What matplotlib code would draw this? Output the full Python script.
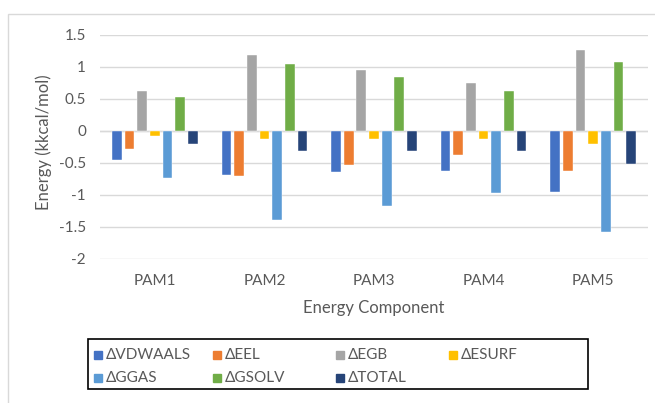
import matplotlib.pyplot as plt
from matplotlib.patches import Rectangle

plt.rcParams['font.family'] = ['Lato', 'DejaVu Sans']

# MM-GBSA energy components per complex (kcal/mol)
complexes = ["PAM1", "PAM2", "PAM3", "PAM4", "PAM5"]
components = ["ΔVDWAALS", "ΔEEL", "ΔEGB", "ΔESURF", "ΔGGAS", "ΔGSOLV", "ΔTOTAL"]
vdwaals = [-0.46, -0.69, -0.64, -0.62, -0.96]
eel = [-0.28, -0.71, -0.53, -0.37, -0.63]
egb = [0.62, 1.19, 0.96, 0.75, 1.27]
esurf = [-0.08, -0.13, -0.13, -0.12, -0.20]
ggas = [-0.73, -1.39, -1.17, -0.97, -1.58]
gsolv = [0.53, 1.05, 0.84, 0.63, 1.08]
total = [-0.20, -0.31, -0.31, -0.32, -0.51]
yticks = [1.5, 1, 0.5, 0, -0.5, -1, -1.5, -2]

series = [vdwaals, eel, egb, esurf, ggas, gsolv, total]
colors = ["#4472C4", "#ED7D31", "#A5A5A5", "#FFC000", "#5B9BD5", "#70AD47", "#264478"]
text_color = "#595959"
grid_color = "#D9D9D9"

W, H = 655, 403
fig = plt.figure(figsize=(W / 100, H / 100), dpi=100)


def fx(x):
    return x / W


def fy(y):
    return 1 - y / H


# outer chart frame
fig.patches.append(Rectangle((fx(8), fy(420)), fx(700), 420 / H - 14 / H,
                             transform=fig.transFigure, fill=False,
                             edgecolor=grid_color, lw=1))

ax = fig.add_axes([fx(100), fy(259), fx(548), (259 - 35) / H])

pitch = 0.1156
width = 0.0885
for j, (vals, c) in enumerate(zip(series, colors)):
    xs = [i + (j - 3) * pitch for i in range(len(complexes))]
    ax.bar(xs, vals, width=width, color=c, edgecolor="white", linewidth=0.3, zorder=3)

ax.set_xlim(-0.5, len(complexes) - 0.5)
ax.set_ylim(-2, 1.5)
ax.set_yticks(yticks)
ax.set_yticklabels([f"{v:g}" for v in yticks])
ax.set_xticks(range(len(complexes)))
ax.set_xticklabels(complexes)
ax.tick_params(length=0, colors=text_color, labelsize=11)
ax.tick_params(axis="y", pad=10)
ax.tick_params(axis="x", pad=11)
for s in ax.spines.values():
    s.set_visible(False)
ax.grid(axis="y", color=grid_color, lw=1, zorder=0)
ax.axhline(0, color=grid_color, lw=1, zorder=2)

fig.text(fx(374), fy(308), "Energy Component", ha="center", va="center",
         color=text_color, fontsize=12)
fig.text(fx(44), fy(142), "Energy (kkcal/mol)", ha="center", va="center",
         rotation=90, color=text_color, fontsize=12)

# legend box with equal-width columns
fig.patches.append(Rectangle((fx(88), fy(389)), fx(500), 50 / H,
                             transform=fig.transFigure, fill=False,
                             edgecolor="black", lw=1.2))
col_x = [94, 213, 336, 449]
row_y = [355, 378]
for k, (name, c) in enumerate(zip(components, colors)):
    x0 = col_x[k % 4]
    y0 = row_y[k // 4]
    fig.patches.append(Rectangle((fx(x0), fy(y0 + 4)), fx(8), 8 / H,
                                 transform=fig.transFigure, color=c))
    fig.text(fx(x0 + 12), fy(y0), name, ha="left", va="center",
             color=text_color, fontsize=11)

fig.savefig("out.png", dpi=100)
